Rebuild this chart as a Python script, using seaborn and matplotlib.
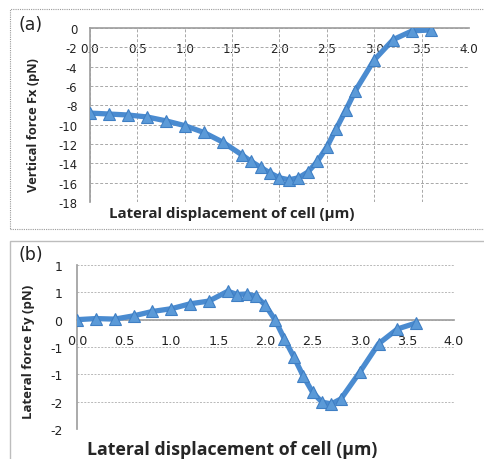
import matplotlib

matplotlib.use("Agg")
import matplotlib.pyplot as plt
import pandas as pd
import seaborn as sns
from matplotlib.patches import Rectangle

# panel (a): vertical force vs lateral displacement
disp_a = [0.0, 0.2, 0.4, 0.6, 0.8, 1.0, 1.2, 1.4, 1.6, 1.7, 1.8, 1.9, 2.0,
          2.1, 2.2, 2.3, 2.4, 2.5, 2.6, 2.7, 2.8, 3.0, 3.2, 3.4, 3.6]
force_fx = [-8.8, -8.9, -9.0, -9.2, -9.6, -10.1, -10.8, -11.8, -13.1, -13.8,
            -14.4, -15.0, -15.5, -15.7, -15.5, -14.9, -13.8, -12.3, -10.4,
            -8.5, -6.5, -3.3, -1.2, -0.3, -0.2]

# panel (b): lateral force vs lateral displacement
disp_b = [0.0, 0.2, 0.4, 0.6, 0.8, 1.0, 1.2, 1.4, 1.6, 1.7, 1.8, 1.9, 2.0,
          2.1, 2.2, 2.3, 2.4, 2.5, 2.6, 2.7, 2.8, 3.0, 3.2, 3.4, 3.6]
force_fy = [0.0, 0.02, 0.01, 0.07, 0.15, 0.2, 0.29, 0.34, 0.52, 0.46, 0.47,
            0.43, 0.26, 0.0, -0.35, -0.68, -1.03, -1.33, -1.51, -1.54, -1.45,
            -0.96, -0.44, -0.17, -0.06]

x_ticks = [0.0, 0.5, 1.0, 1.5, 2.0, 2.5, 3.0, 3.5, 4.0]
x_tick_labels = ["0.0", "0.5", "1.0", "1.5", "2.0", "2.5", "3.0", "3.5", "4.0"]
a_y_ticks = [0, -2, -4, -6, -8, -10, -12, -14, -16, -18]
b_y_ticks = [1.0, 0.5, 0.0, -0.5, -1.0, -1.5, -2.0]
b_y_tick_labels = ["1", "1", "0", "-1", "-1", "-2", "-2"]

x_label = "Lateral displacement of cell (\u03bcm)"
line_color = "#4a8bd0"
grid_color = "#a8a8a8"
label_font = "Open Sans"


def draw_curve(ax, x, y):
    df = pd.DataFrame({"x": x, "y": y})
    sns.lineplot(data=df, x="x", y="y", ax=ax, color=line_color, linewidth=3.8,
                 marker="^", markersize=9, markeredgecolor="#3f7fc4",
                 markerfacecolor="#5b9ad8", markeredgewidth=0.8, zorder=5,
                 sort=False)


def main() -> None:
    sns.set_theme(style="white")
    plt.rcParams["font.family"] = ["DejaVu Sans"]
    plt.rcParams["axes.unicode_minus"] = False

    fig = plt.figure(figsize=(4.85, 4.6), dpi=100)

    # panel borders
    fig.add_artist(Rectangle((10 / 485, 1 - 230 / 460), 1.0, 220 / 460,
                             transform=fig.transFigure, fill=False,
                             edgecolor="#9a9a9a", linestyle=(0, (1, 1)),
                             linewidth=0.8))
    fig.add_artist(Rectangle((10 / 485, -0.05), 1.0, 1 - 242 / 460 + 0.05,
                             transform=fig.transFigure, fill=False,
                             edgecolor="#bdbdbd", linewidth=1.0))

    # ---- panel (a)
    ax_a = fig.add_axes([90 / 485, 1 - 203 / 460, 379 / 485, 174 / 460])
    draw_curve(ax_a, disp_a, force_fx)
    ax_a.set_xlim(0, 4)
    ax_a.set_ylim(-18, 0)
    ax_a.set_xticks(x_ticks)
    ax_a.set_xticklabels(x_tick_labels)
    ax_a.set_yticks(a_y_ticks)
    ax_a.grid(True, color=grid_color, linestyle=(0, (3, 2)), linewidth=0.7)
    ax_a.set_axisbelow(True)
    for side in ["top", "right"]:
        ax_a.spines[side].set_visible(False)
    ax_a.spines["bottom"].set_position(("data", 0))
    ax_a.spines["bottom"].set_color("#a0a0a0")
    ax_a.spines["left"].set_color("#a0a0a0")
    ax_a.tick_params(axis="x", labelsize=8.6, pad=10, length=4, direction="in",
                     color="#a0a0a0", labelcolor="#222222")
    ax_a.tick_params(axis="y", labelsize=8.4, pad=5.5, length=3.5,
                     direction="out", color="#a0a0a0", labelcolor="#222222")
    ax_a.set_xlabel(x_label, fontsize=10.8, fontweight="bold",
                    family=label_font)
    ax_a.xaxis.set_label_coords(0.375, -0.025)
    ax_a.set_ylabel("Vertical force Fx (pN)", fontsize=9.3, fontweight="bold",
                    family=label_font)
    ax_a.yaxis.set_label_coords(-0.133, 0.45)
    fig.text(19 / 485, 1 - 25 / 460, "(a)", fontsize=12.5, va="center",
             ha="left", color="#222222")

    # ---- panel (b)
    ax_b = fig.add_axes([77 / 485, 1 - 430 / 460, 377 / 485, 164 / 460])
    draw_curve(ax_b, disp_b, force_fy)
    ax_b.set_xlim(0, 4)
    ax_b.set_ylim(-2, 1)
    ax_b.set_xticks(x_ticks)
    ax_b.set_xticklabels(x_tick_labels)
    ax_b.set_yticks(b_y_ticks)
    ax_b.set_yticklabels(b_y_tick_labels)
    ax_b.grid(True, axis="y", color="#b8b8b8", linestyle=(0, (2, 1.5)),
              linewidth=0.7)
    ax_b.set_axisbelow(True)
    for side in ["top", "right"]:
        ax_b.spines[side].set_visible(False)
    ax_b.spines["bottom"].set_position(("data", 0))
    ax_b.spines["bottom"].set_color("#a0a0a0")
    ax_b.spines["left"].set_color("#a0a0a0")
    ax_b.tick_params(axis="x", labelsize=9.2, pad=6, length=4, direction="out",
                     color="#a0a0a0", labelcolor="#222222")
    ax_b.tick_params(axis="y", labelsize=9.0, pad=7, length=3.5,
                     direction="out", color="#a0a0a0", labelcolor="#222222")
    ax_b.set_xlabel(x_label, fontsize=12.8, fontweight="bold",
                    family=label_font)
    ax_b.xaxis.set_label_coords(0.411, -0.065)
    ax_b.set_ylabel("Lateral force Fy (pN)", fontsize=9.5, fontweight="bold",
                    family=label_font)
    ax_b.yaxis.set_label_coords(-0.112, 0.476)
    fig.text(19 / 485, 1 - 255 / 460, "(b)", fontsize=12.5, va="center",
             ha="left", color="#222222")

    fig.savefig("out.png", dpi=100)
    plt.close(fig)


if __name__ == "__main__":
    main()
